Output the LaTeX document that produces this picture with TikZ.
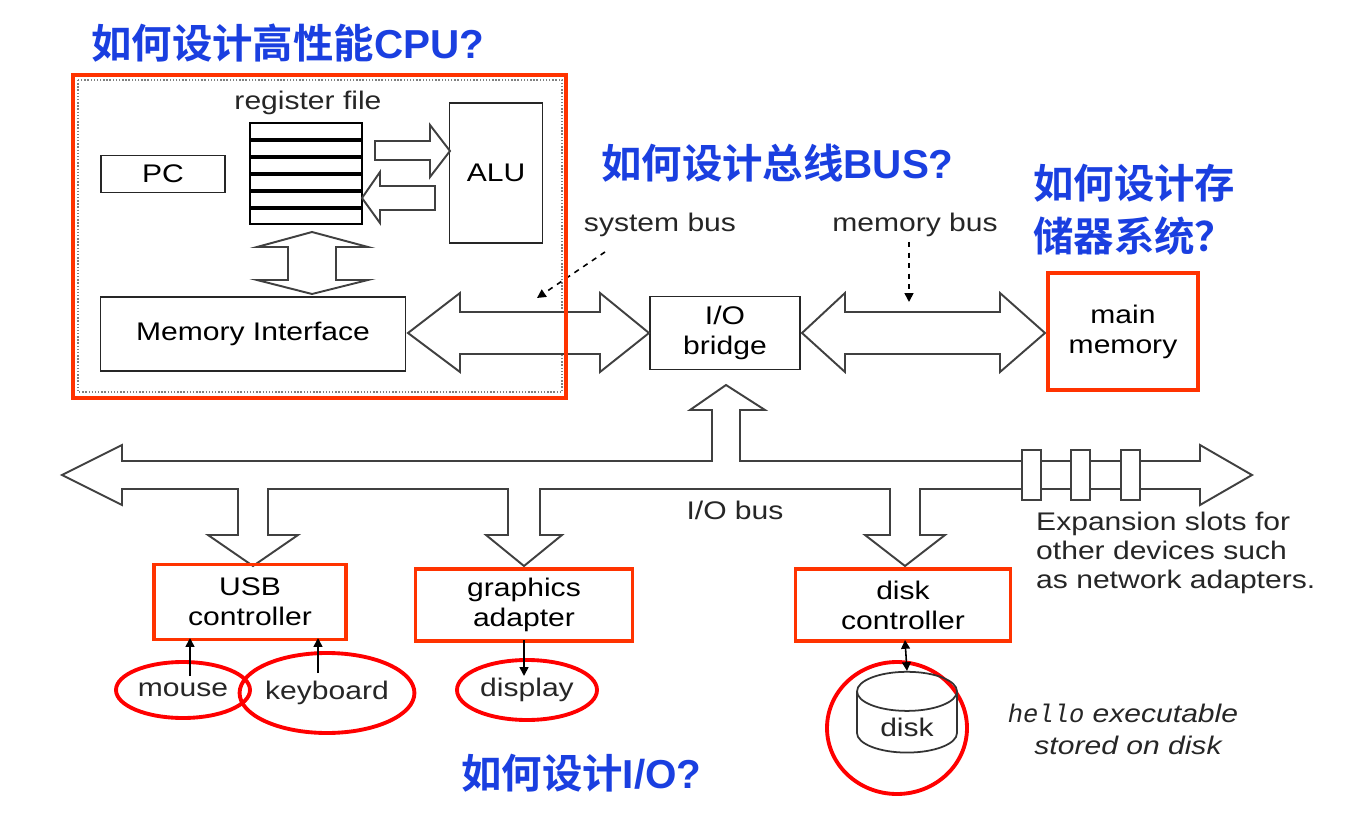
\documentclass[tikz,border=0pt]{standalone}
\usepackage{fontspec}
\setmainfont{Liberation Sans}[FakeStretch=1.18]
\setmonofont{Liberation Mono}
\newfontfamily\cjk{Noto Sans CJK SC}[BoldFont={Noto Sans CJK SC Bold}]
\newfontfamily\latb{Liberation Sans Bold}
\newcommand{\lt}[1]{{\latb #1}}
\usetikzlibrary{shapes.geometric,arrows.meta}
\definecolor{hblue}{HTML}{1A3FE0}
\definecolor{hred}{HTML}{FF3300}
\begin{document}
\begin{tikzpicture}[x=0.02cm,y=-0.02cm,
  box/.style={draw=black!85,line width=1.1pt,inner sep=0,align=center,font=\fontsize{14.5}{17}\selectfont},
  rbox/.style={draw=hred,line width=2.2pt},
  fat/.style={draw=black!75,line width=1.1pt,fill=white,line join=miter},
  lbl/.style={font=\fontsize{14.5}{17}\selectfont,text=black!85},
  ttl/.style={font=\cjk\bfseries\fontsize{23}{30}\selectfont,text=hblue,align=left,anchor=west},
  ell/.style={draw=red,line width=2.2pt,inner sep=0},
  thin/.style={-{Triangle[length=5pt,width=5pt]},line width=0.9pt}]
\useasboundingbox (0,0) rectangle (1369,824);
% titles
\node[ttl] (t1) at (85,43) {如何设计高性能\lt{CPU?}};
\node[ttl] (t2) at (595,163) {如何设计总线\lt{BUS?}};
\node[ttl] (t3) at (1027,210) {如何设计存\\储器系统？};
\node[ttl] (t4) at (455,773) {如何设计\lt{I/O?}};
% CPU region
\draw[black!50,densely dotted,line width=0.8pt] (78,80) rectangle (562,392);
\node[lbl] (rfl) at (308,103) {register file};
\draw[line width=1.2pt] (250,123) rectangle (362,224);
\foreach \i in {1,...,5}{\draw[line width=2pt] (250,123+\i*17) -- (362,123+\i*17);}
\node (rf) [inner sep=0,minimum width=112*0.02cm,minimum height=101*0.02cm] at (306,174) {};
\node[box,minimum width=124*0.02cm,minimum height=37*0.02cm] (pc) at (163,174) {PC};
\node[box,minimum width=93*0.02cm,minimum height=140*0.02cm] (alu) at (496,173) {ALU};
\node[box,minimum width=305*0.02cm,minimum height=74*0.02cm] (mi) at (253,334) {Memory Interface};
\draw[fat] (375,141) -- (430,141) -- (430,125) -- (450,151) -- (430,177) -- (430,160) -- (375,160) -- cycle;
\draw[fat] (435,186) -- (380,186) -- (380,172) -- (362,198) -- (380,223) -- (380,210) -- (435,210) -- cycle;
\draw[fat] (312,232) -- (368,247) -- (336,247) -- (336,280) -- (368,280) -- (312,294) -- (257,280) -- (288,280) -- (288,247) -- (257,247) -- cycle;
% system bus
\node[box,minimum width=150*0.02cm,minimum height=73*0.02cm] (iob) at (725,333) {I/O\\bridge};
\draw[fat] (408,333) -- (460,293) -- (460,312) -- (600,312) -- (600,293) -- (649,333) -- (600,372) -- (600,354) -- (460,354) -- (460,372) -- cycle;
\draw[fat] (802,333) -- (845,293) -- (845,312) -- (1000,312) -- (1000,293) -- (1045,333) -- (1000,372) -- (1000,354) -- (845,354) -- (845,372) -- cycle;
\node[lbl] (sbl) at (660,225) {system bus};
\node[lbl] (mbl) at (915,225) {memory bus};
\coordinate (sbt) at (537,298);
\coordinate (mbt) at (909,302);
\draw[thin,dashed] (605,252) -- (sbt);
\draw[thin,dashed] (909,242) -- (mbt);
% main memory
\node[box,draw=none,minimum width=150*0.02cm,minimum height=117*0.02cm] (mm) at (1123,332) {main\\memory};
\draw[rbox] (1048,273) rectangle (1198,390);
% I/O bus
\draw[fat] (62,475) -- (122,445) -- (122,461)
  -- (712,461) -- (712,410) -- (690,410) -- (726,385) -- (765,410) -- (740,410) -- (740,461)
  -- (1200,461) -- (1200,445) -- (1252,475) -- (1200,505) -- (1200,489)
  -- (920,489) -- (920,535) -- (945,535) -- (905,566) -- (865,535) -- (890,535) -- (890,489)
  -- (540,489) -- (540,535) -- (562,535) -- (524,566) -- (486,535) -- (508,535) -- (508,489)
  -- (268,489) -- (268,535) -- (298,535) -- (253,566) -- (208,535) -- (238,535) -- (238,489)
  -- (122,489) -- (122,505) -- cycle;
\foreach \x in {1022,1071,1121}{\draw[fat] (\x,450) rectangle (\x+19,500);}
\node[lbl] (iobl) at (735,510) {I/O bus};
\node[lbl,align=left,anchor=north west,font=\fontsize{14.5}{16.5}\selectfont] (exp) at (1030,506) {Expansion slots for\\other devices such\\as network adapters.};
% controllers
\node[box,draw=none,minimum width=190*0.02cm,minimum height=73*0.02cm] (usb) at (250,602) {USB\\controller};
\draw[rbox] (usb.north west) rectangle (usb.south east);
\node[box,draw=none,minimum width=215*0.02cm,minimum height=70*0.02cm] (ga) at (524,605) {graphics\\adapter};
\draw[rbox] (ga.north west) rectangle (ga.south east);
\node[box,draw=none,minimum width=213*0.02cm,minimum height=70*0.02cm] (dc) at (903,605) {disk\\controller};
\draw[rbox] (dc.north west) rectangle (dc.south east);
% devices
\node[ell,ellipse,minimum width=134*0.02cm,minimum height=56*0.02cm,lbl] (mouse) at (183,690) {mouse};
\node[ell,ellipse,minimum width=160*0.02cm,minimum height=80*0.02cm,lbl] (kb) at (327,693) {keyboard};
\node[ell,ellipse,minimum width=140*0.02cm,minimum height=60*0.02cm,lbl] (disp) at (527,690) {display};
\draw[ell] (897,728) ellipse [x radius=70, y radius=66];
\node[cylinder,shape border rotate=90,draw=black!80,line width=1pt,minimum width=100*0.02cm,minimum height=80*0.02cm,aspect=0.6,lbl] (disk) at (907,727) {disk};
\draw[thin] (190,676) -- (190,638);
\draw[thin] (318,673) -- (318,638);
\draw[thin] (524,640) -- (524,676);
\draw[thin,{Triangle[length=5pt,width=5pt]}-{Triangle[length=5pt,width=5pt]}] (905,640) -- (disk.north);
\node[lbl,font=\itshape\fontsize{14.5}{17}\selectfont] (h1) at (1123,713) {{\ttfamily\itshape hello} executable};
\node[lbl,font=\itshape\fontsize{14.5}{17}\selectfont] (h2) at (1128,745) {stored on disk};
% CPU red box
\draw[rbox] (73,75) rectangle (566,398);
\end{tikzpicture}
\end{document}
